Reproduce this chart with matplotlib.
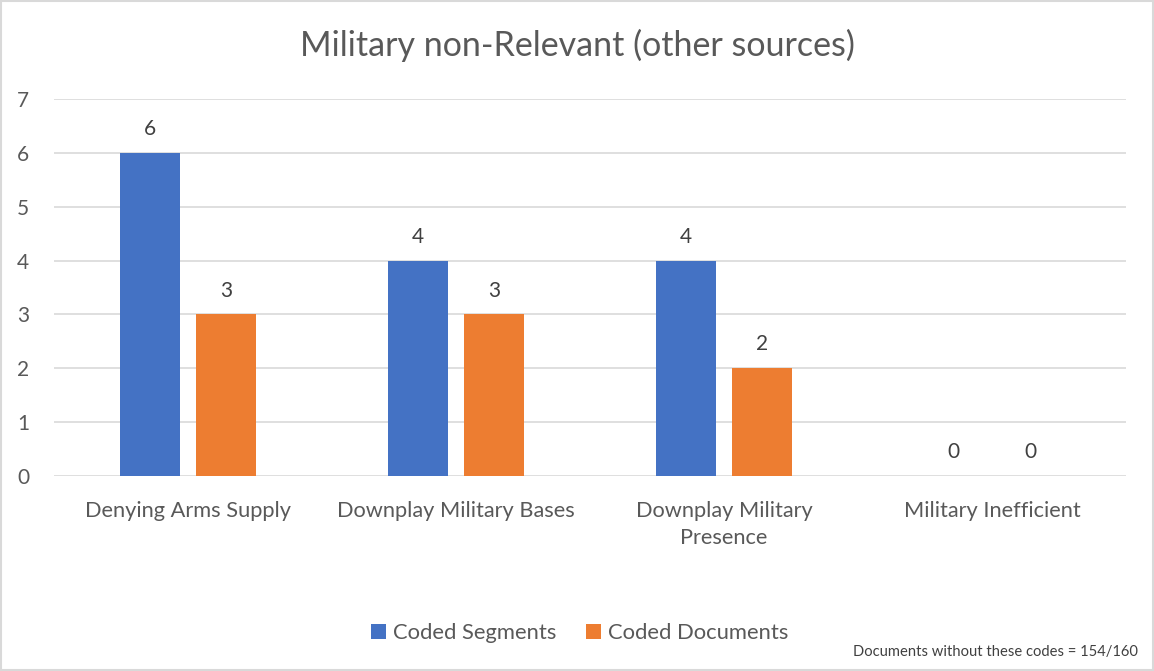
import matplotlib
matplotlib.use("Agg")
import matplotlib.pyplot as plt
import numpy as np
from matplotlib.patches import Rectangle

categories = ["Denying Arms Supply", "Downplay Military Bases",
              "Downplay Military\nPresence", "Military Inefficient"]
coded_segments = [6, 4, 4, 0]
coded_documents = [3, 3, 2, 0]
y_ticks = [0, 1, 2, 3, 4, 5, 6, 7]

blue = "#4472C4"
orange = "#ED7D31"
text_col = "#595959"
grid_col = "#D9D9D9"

plt.rcParams["font.family"] = ["Lato", "DejaVu Sans"]

fig = plt.figure(figsize=(11.54, 6.71), dpi=100)
ax = fig.add_axes([0.0468, 0.2906, 0.9289, 0.5619])

x = np.arange(len(categories))
w = 0.224
off = 0.142
b1 = ax.bar(x - off, coded_segments, w, color=blue, label="Coded Segments", zorder=3)
b2 = ax.bar(x + off, coded_documents, w, color=orange, label="Coded Documents", zorder=3)

for bars in (b1, b2):
    for r in bars:
        ax.annotate(f"{r.get_height():g}", (r.get_x() + r.get_width() / 2, r.get_height()),
                    xytext=(0, 10), textcoords="offset points", ha="center", va="bottom",
                    fontsize=15, color="#404040")

ax.set_xlim(-0.5, len(categories) - 0.5)
ax.set_ylim(0, 7)
ax.set_yticks(y_ticks)
ax.yaxis.grid(True, color=grid_col, linewidth=1.2, zorder=0)
ax.set_axisbelow(True)
for s in ax.spines.values():
    s.set_visible(False)
ax.tick_params(axis="both", length=0, colors=text_col)
ax.tick_params(axis="y", pad=18, labelsize=15)
ax.tick_params(axis="x", pad=18, labelsize=15.7)
ax.set_xticks(x)
ax.set_xticklabels(categories, linespacing=1.45)

fig.text(0.5, 0.932, "Military non-Relevant (other sources)", ha="center", va="center",
         fontsize=24.5, color=text_col)

leg = fig.legend(loc="center", bbox_to_anchor=(0.502, 0.056), ncol=2, frameon=False,
                 fontsize=15.8, handlelength=0.7, handleheight=0.7, handletextpad=0.3,
                 columnspacing=1.35, labelcolor=text_col)

fig.text(0.986, 0.029, "Documents without these codes = 154/160", ha="right", va="center",
         fontsize=10.6, color="#404040")

fig.patches.append(Rectangle((0.001, 0.001), 0.998, 0.997, transform=fig.transFigure,
                             fill=False, edgecolor="#D9D9D9", linewidth=1.5))

fig.savefig("out.png", dpi=100, facecolor="white")
